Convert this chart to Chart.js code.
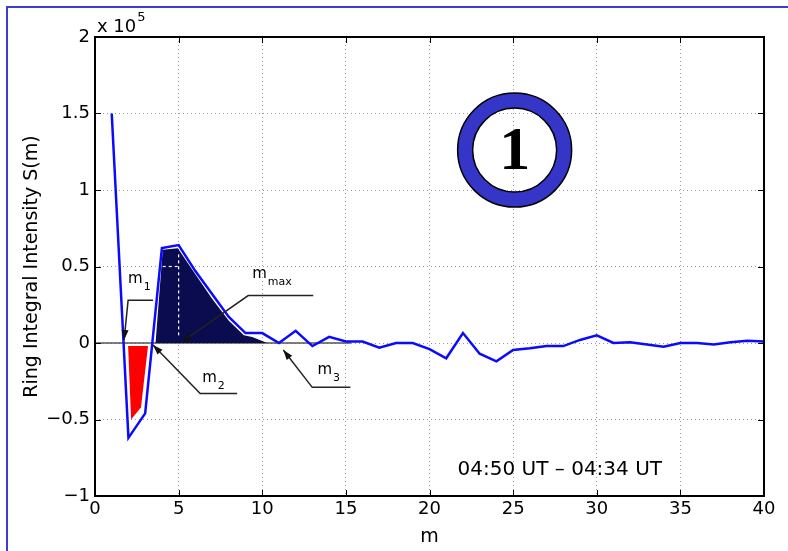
<!DOCTYPE html>
<html lang="en">
<head>
  <meta charset="UTF-8" />
  <title>Ring Integral Intensity</title>

  <!-- Chart.js -->
  <script src="https://cdn.jsdelivr.net/npm/chart.js@4.4.0/dist/chart.umd.min.js"></script>

  <style>
    body  { margin:0; background:#fff; }
    #wrap { width:788px; height:551px; }
  </style>
</head>
<body>
  <div id="wrap"><canvas id="ringChart" width="788" height="551"></canvas></div>

  <script>
    /* ── curve S(m), in units of 1e5 ── */
    const mValues   = [1,2,3,4,5,6,7,8,9,10,11,12,13,14,15,16,17,18,19,20,
                       21,22,23,24,25,26,27,28,29,30,31,32,33,34,35,36,37,38,39,40];
    const intensity = [1.5,-0.62,-0.46,0.62,0.64,0.47,0.32,0.17,0.065,0.065,
                       0.0,0.08,-0.02,0.04,0.01,0.01,-0.03,0.0,0.0,-0.04,
                       -0.10,0.065,-0.07,-0.12,-0.045,-0.035,-0.02,-0.02,0.02,0.05,
                       0.0,0.005,-0.01,-0.025,0.0,0.0,-0.01,0.005,0.015,0.01];

    /* ── axes ── */
    const xTicks      = [0,5,10,15,20,25,30,35,40];
    const yTicks      = [-1,-0.5,0,0.5,1,1.5,2];
    const yTickLabels = ['\u22121','\u22120.5','0','0.5','1','1.5','2'];

    /* ── shaded patches ── */
    const redPatchM  = [1.98,3.17,2.75,2.16,1.98];
    const redPatchS  = [-0.02,-0.02,-0.42,-0.50,-0.02];
    const navyPatchM = [3.62,4.05,4.95,6.0,7.0,8.0,8.9,9.4,10.3,3.62];
    const navyPatchS = [0,0.61,0.62,0.45,0.29,0.145,0.05,0.04,0,0];

    /* grid lines that show through the navy patch */
    const whiteVertM = [5,5],        whiteVertS = [0.05,0.6];
    const whiteHorzM = [4.05,5.1],   whiteHorzS = [0.5,0.5];

    /* solid zero line under the early part */
    const zeroLineM = [0,15.3], zeroLineS = [0,0];

    /* ── annotations: label anchor + leader path (arrow at last point) ── */
    const annotSub    = ['1','2','max','3'];
    const annotLabelM = [1.98,6.41,9.4,13.3];
    const annotLabelS = [0.39,-0.255,0.425,-0.2];
    const annotPathM  = [[3.47,1.98,1.74],[8.5,6.29,3.47],[13.05,9.16,5.2],[15.27,12.99,11.26]];
    const annotPathS  = [[0.28,0.28,0.02],[-0.33,-0.33,-0.013],[0.31,0.31,0.007],[-0.29,-0.29,-0.046]];

    const timeLabel  = '04:50 UT \u2013 04:34 UT';
    const timeLabelM = 21.68, timeLabelS = -0.863;
    const badgeText  = '1';
    const badgeM     = 25.09, badgeS = 1.261;

    const pts = (xs, ys) => xs.map((x,i)=>({x, y:ys[i]}));

    /* frame, ticks, arrows, texts */
    const decor = {
      id:'decor',
      beforeDraw(chart){
        const c = chart.ctx;
        c.save();
        c.fillStyle = '#fff';
        c.fillRect(0,0,chart.width,chart.height);
        c.strokeStyle = '#3d3dd0';
        c.lineWidth = 2;
        c.beginPath();
        c.moveTo(7,chart.height); c.lineTo(7,7); c.lineTo(chart.width,7);
        c.stroke();
        c.restore();
      },
      afterDatasetsDraw(chart){
        const c = chart.ctx, a = chart.chartArea;
        const sx = chart.scales.x, sy = chart.scales.y;
        const px = v => sx.getPixelForValue(v), py = v => sy.getPixelForValue(v);
        c.save();

        // box + inward ticks
        c.strokeStyle = '#000'; c.lineWidth = 2;
        c.strokeRect(a.left, a.top, a.right-a.left, a.bottom-a.top);
        c.lineWidth = 1;
        c.beginPath();
        xTicks.forEach(t=>{
          const x = Math.round(px(t))+0.5;
          c.moveTo(x,a.bottom); c.lineTo(x,a.bottom-6);
          c.moveTo(x,a.top);    c.lineTo(x,a.top+6);
        });
        yTicks.forEach(t=>{
          const y = Math.round(py(t))+0.5;
          c.moveTo(a.left,y);  c.lineTo(a.left+6,y);
          c.moveTo(a.right,y); c.lineTo(a.right-6,y);
        });
        c.stroke();

        // leader lines with arrowheads
        c.strokeStyle = '#222'; c.fillStyle = '#111'; c.lineWidth = 1.5;
        annotPathM.forEach((ms,k)=>{
          const p = ms.map((m,i)=>[px(m), py(annotPathS[k][i])]);
          c.beginPath();
          p.forEach(([x,y],i)=> i ? c.lineTo(x,y) : c.moveTo(x,y));
          c.stroke();
          const [x1,y1] = p[p.length-2], [x2,y2] = p[p.length-1];
          const ang = Math.atan2(y2-y1, x2-x1);
          c.beginPath();
          c.moveTo(x2,y2);
          c.lineTo(x2-10*Math.cos(ang)+3.5*Math.sin(ang), y2-10*Math.sin(ang)-3.5*Math.cos(ang));
          c.lineTo(x2-10*Math.cos(ang)-3.5*Math.sin(ang), y2-10*Math.sin(ang)+3.5*Math.cos(ang));
          c.closePath(); c.fill();
        });

        // m labels with subscripts
        c.fillStyle = '#000'; c.textBaseline = 'alphabetic'; c.textAlign = 'left';
        annotSub.forEach((s,k)=>{
          const x = px(annotLabelM[k]), y = py(annotLabelS[k]);
          c.font = '15px "DejaVu Sans"';
          c.fillText('m', x, y);
          const w = c.measureText('m').width;
          c.font = '11px "DejaVu Sans"';
          c.fillText(s, x+w+1, y+7);
        });

        // time stamp
        c.font = '20px "DejaVu Sans"';
        c.fillText(timeLabel, px(timeLabelM), py(timeLabelS));

        // exponent
        c.font = '18px "DejaVu Sans"';
        c.fillText('x 10', a.left+2, a.top-5);
        const ew = c.measureText('x 10').width;
        c.font = '13px "DejaVu Sans"';
        c.fillText('5', a.left+3+ew, a.top-16);

        // circled "1"
        const bx = px(badgeM), by = py(badgeS);
        c.beginPath();
        c.arc(bx,by,57,0,Math.PI*2);
        c.arc(bx,by,42,0,Math.PI*2,true);
        c.fillStyle = '#3535c8'; c.fill('evenodd');
        c.strokeStyle = '#000'; c.lineWidth = 1.5;
        c.beginPath(); c.arc(bx,by,57,0,Math.PI*2); c.stroke();
        c.beginPath(); c.arc(bx,by,42,0,Math.PI*2); c.stroke();
        c.fillStyle = '#000';
        c.font = 'bold 62px "Liberation Serif"';
        c.textAlign = 'center'; c.textBaseline = 'middle';
        c.fillText(badgeText, bx, by+3);

        c.restore();
      }
    };

    new Chart(document.getElementById('ringChart'),{
      type:'scatter',
      data:{
        datasets:[
          { data:pts(mValues,intensity), showLine:true, borderColor:'#0a0aff', borderWidth:2.5,
            pointRadius:0, tension:0, fill:false, order:0 },
          { data:pts(whiteVertM,whiteVertS), showLine:true, borderColor:'#fff', borderWidth:1.2,
            borderDash:[3,3], pointRadius:0, order:1 },
          { data:pts(whiteHorzM,whiteHorzS), showLine:true, borderColor:'#fff', borderWidth:1.2,
            borderDash:[3,3], pointRadius:0, order:1 },
          { data:pts(navyPatchM,navyPatchS), showLine:true, borderColor:'transparent', borderWidth:0,
            backgroundColor:'#0b0b50', fill:'shape', pointRadius:0, order:2 },
          { data:pts(redPatchM,redPatchS), showLine:true, borderColor:'transparent', borderWidth:0,
            backgroundColor:'#ff0000', fill:'shape', pointRadius:0, order:2 },
          { data:pts(zeroLineM,zeroLineS), showLine:true, borderColor:'#555', borderWidth:1.5,
            pointRadius:0, order:3 }
        ]
      },
      options:{
        responsive:false,
        animation:false,
        events:[],
        layout:{ padding:{ left:8, right:24, top:37, bottom:0 } },
        plugins:{ legend:{display:false}, tooltip:{enabled:false} },
        scales:{
          x:{
            type:'linear', min:0, max:40,
            afterFit:s=>{ s.height = 55; },
            afterBuildTicks:s=>{ s.ticks = xTicks.map(v=>({value:v})); },
            ticks:{ color:'#000', padding:3, font:{family:'DejaVu Sans', size:18}, maxRotation:0 },
            grid:{ color:'#9a9a9a', lineWidth:1, drawTicks:false },
            border:{ display:false, dash:[1,3] },
            title:{ display:true, text:'m', color:'#000', font:{family:'DejaVu Sans', size:19},
                    padding:{top:2,bottom:3} }
          },
          y:{
            type:'linear', min:-1, max:2,
            afterFit:s=>{ s.width = 87; },
            afterBuildTicks:s=>{ s.ticks = yTicks.map(v=>({value:v})); },
            ticks:{ color:'#000', padding:5, font:{family:'DejaVu Sans', size:18},
                    callback:v=>yTickLabels[yTicks.indexOf(v)] },
            grid:{ color:'#9a9a9a', lineWidth:1, drawTicks:false },
            border:{ display:false, dash:[1,3] },
            title:{ display:true, text:'Ring Integral Intensity S(m)', color:'#000',
                    font:{family:'DejaVu Sans', size:19}, padding:{top:13,bottom:4} }
          }
        }
      },
      plugins:[decor]
    });
  </script>
</body>
</html>
